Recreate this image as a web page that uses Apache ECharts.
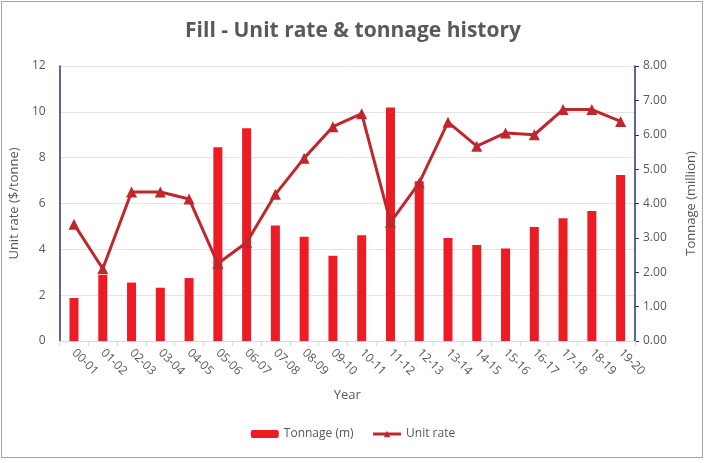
<!DOCTYPE html>
<html>
<head>
<meta charset="utf-8">
<script src="https://cdn.jsdelivr.net/npm/echarts@6/dist/echarts.min.js"></script>
<style>
  html, body { margin: 0; padding: 0; background: #fff; }
  #frame { position: absolute; left: 1px; top: 1px; width: 700px; height: 455px; border: 1px solid #a6a6a6; }
  #report-container { position: absolute; left: 0; top: 0; width: 706px; height: 463px; }
</style>
</head>
<body>
<div id="frame"></div>
<div id="report-container"></div>
<script>
var years = ['00-01','01-02','02-03','03-04','04-05','05-06','06-07','07-08','08-09','09-10',
             '10-11','11-12','12-13','13-14','14-15','15-16','16-17','17-18','18-19','19-20'];
var tonnage = [1.25, 1.92, 1.70, 1.55, 1.83, 5.64, 6.19, 3.36, 3.03, 2.48,
               3.08, 6.79, 4.65, 3.00, 2.79, 2.69, 3.32, 3.57, 3.78, 4.83];
var unitRate = [5.1, 3.15, 6.5, 6.5, 6.2, 3.38, 4.3, 6.4, 7.98, 9.35,
                9.92, 5.18, 6.9, 9.55, 8.5, 9.08, 9.0, 10.1, 10.1, 9.58];

var dom = document.getElementById("report-container");
var myChart = echarts.init(dom);
var font = "'Open Sans', 'Noto Sans', sans-serif";
var grey = '#595959';

var option = {
    animation: false,
    textStyle: { fontFamily: font },
    title: {
        text: 'Fill - Unit rate & tonnage history',
        left: 'center',
        top: 16,
        textStyle: { fontSize: 21, fontWeight: 'bold', color: '#595959', fontFamily: font }
    },
    legend: {
        bottom: 18,
        left: 'center',
        itemWidth: 28,
        itemHeight: 8,
        itemGap: 18,
        lineStyle: { width: 3 },
        textStyle: { color: grey, fontSize: 12 },
        data: ['Tonnage (m)', 'Unit rate']
    },
    grid: { left: 54, right: 66, top: 66, bottom: 122 },
    xAxis: {
        type: 'category',
        data: years,
        name: 'Year',
        nameLocation: 'middle',
        nameGap: 48,
        nameTextStyle: { color: grey, fontSize: 13 },
        axisLine: { lineStyle: { color: '#d9d9d9' } },
        axisTick: { show: true, lineStyle: { color: '#d9d9d9' } },
        axisLabel: { rotate: -45, color: grey, fontSize: 12, margin: 10 }
    },
    yAxis: [
        {
            type: 'value',
            min: 0, max: 12, interval: 2,
            name: 'Unit rate ($/tonne)',
            nameLocation: 'middle',
            nameGap: 30,
            nameTextStyle: { color: grey, fontSize: 13 },
            axisLine: { show: true, lineStyle: { color: '#2b3467', width: 1.5 } },
            axisTick: { show: false },
            axisLabel: { color: grey, fontSize: 12, margin: 14 },
            splitLine: { lineStyle: { color: '#e3e3e3' } }
        },
        {
            type: 'value',
            min: 0, max: 8, interval: 1,
            name: 'Tonnage (million)',
            nameLocation: 'middle',
            nameGap: 50,
            nameRotate: 90,
            nameTextStyle: { color: grey, fontSize: 13 },
            axisLine: { show: true, lineStyle: { color: '#2b3467', width: 1.5 } },
            axisTick: { show: true, length: 4, lineStyle: { color: '#2b3467' } },
            axisLabel: { color: grey, fontSize: 12, margin: 8,
                formatter: function (v) { return v.toFixed(2); } },
            splitLine: { show: false }
        }
    ],
    series: [
        {
            name: 'Tonnage (m)',
            type: 'bar',
            yAxisIndex: 1,
            barWidth: 9,
            itemStyle: { color: '#ed1c24' },
            data: tonnage
        },
        {
            name: 'Unit rate',
            type: 'line',
            yAxisIndex: 0,
            symbol: 'triangle',
            symbolSize: 11,
            lineStyle: { color: '#c0272d', width: 3 },
            itemStyle: { color: '#c0272d' },
            data: unitRate
        }
    ]
};
if (option && typeof option === "object") {
    myChart.setOption(option, true);
}
</script>
</body>
</html>
